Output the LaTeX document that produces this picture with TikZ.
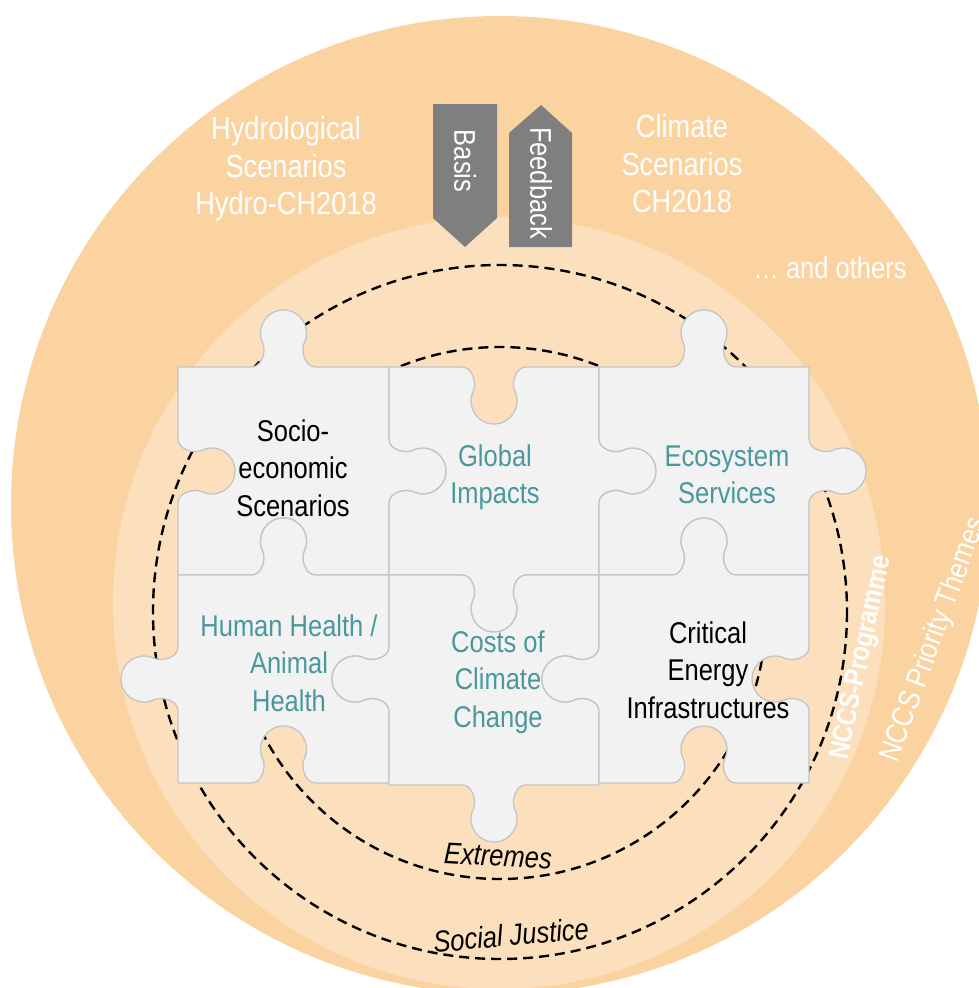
\documentclass[tikz,border=0pt]{standalone}
\usepackage{fontspec}
\setmainfont{Liberation Sans}[FakeStretch=0.85]
\definecolor{outerC}{RGB}{251,211,160}
\definecolor{innerC}{RGB}{252,224,190}
\definecolor{pieceC}{RGB}{242,242,242}
\definecolor{edgeC}{RGB}{196,196,196}
\definecolor{tealC}{RGB}{74,152,158}
\definecolor{arrowC}{RGB}{127,127,127}
% puzzle edge: X Y a b c d ; x = X + a u + b v , y = Y + c u + d v
\newcommand\E[6]{%
 -- ({#1+(#3)*(-32)},{#2+(#5)*(-32)})
 .. controls ({#1+(#3)*(-21)},{#2+(#5)*(-21)}) and ({#1+(#3)*(-17.2)+(#4)*(16.8)},{#2+(#5)*(-17.2)+(#6)*(16.8)}) .. ({#1+(#3)*(-20.7)+(#4)*(24)},{#2+(#5)*(-20.7)+(#6)*(24)})
 .. controls ({#1+(#3)*(-28.1)+(#4)*(39.3)},{#2+(#5)*(-28.1)+(#6)*(39.3)}) and ({#1+(#3)*(-17)+(#4)*(57)},{#2+(#5)*(-17)+(#6)*(57)}) .. ({#1+(#4)*(57)},{#2+(#6)*(57)})
 .. controls ({#1+(#3)*(17)+(#4)*(57)},{#2+(#5)*(17)+(#6)*(57)}) and ({#1+(#3)*(28.1)+(#4)*(39.3)},{#2+(#5)*(28.1)+(#6)*(39.3)}) .. ({#1+(#3)*(20.7)+(#4)*(24)},{#2+(#5)*(20.7)+(#6)*(24)})
 .. controls ({#1+(#3)*(17.2)+(#4)*(16.8)},{#2+(#5)*(17.2)+(#6)*(16.8)}) and ({#1+(#3)*(21)},{#2+(#5)*(21)}) .. ({#1+(#3)*(32)},{#2+(#5)*(32)})
}
\begin{document}
\begin{tikzpicture}[x=1pt,y=-1pt,
  piece/.style={fill=pieceC,draw=edgeC,line width=1.3pt,line join=round},
  ring/.style={draw=black,line width=2.4pt,dash pattern=on 10pt off 6pt},
  lbl/.style={inner sep=0pt,align=center,font=\fontsize{30}{37.5}\selectfont},
  blk/.style={lbl,text=black},
  teal/.style={lbl,text=tealC},
  wht/.style={inner sep=0pt,align=center,text=white,font=\fontsize{32}{37.5}\selectfont},
  arrowbox/.style={fill=arrowC}]
\useasboundingbox (0,0) rectangle (979,988);
\clip (0,0) rectangle (979,988);
% circles
\fill[outerC] (500,505) circle[radius=489];
\fill[innerC] (499,603) circle[radius=386];
\draw[ring] (500,612) circle[radius=347];
\draw[ring] (500,613) circle[radius=266];
% puzzle pieces
\draw[piece] (178,367) \E{283.5}{367}{1}{0}{0}{-1} -- (389,367) \E{389}{471}{0}{1}{1}{0} -- (389,575) \E{283.5}{575}{-1}{0}{0}{-1} -- (178,575) \E{178}{471}{0}{1}{-1}{0} -- cycle;
\draw[piece] (389,367) \E{494}{367}{1}{0}{0}{1} -- (599,367) \E{599}{471}{0}{1}{1}{0} -- (599,575) \E{494}{575}{-1}{0}{0}{1} -- (389,575) \E{389}{471}{0}{1}{-1}{0} -- cycle;
\draw[piece] (599,367) \E{704}{367}{1}{0}{0}{-1} -- (809,367) \E{809}{471}{0}{1}{1}{0} -- (809,575) \E{704}{575}{-1}{0}{0}{-1} -- (599,575) \E{599}{471}{0}{1}{-1}{0} -- cycle;
\draw[piece] (178,575) \E{283.5}{575}{1}{0}{0}{-1} -- (389,575) \E{389}{679}{0}{-1}{1}{0} -- (389,783) \E{283.5}{783}{-1}{0}{0}{-1} -- (178,783) \E{178}{679}{0}{-1}{-1}{0} -- cycle;
\draw[piece] (389,575) \E{494}{575}{1}{0}{0}{1} -- (599,575) \E{599}{679}{0}{-1}{1}{0} -- (599,785) \E{494}{785}{-1}{0}{0}{1} -- (389,785) \E{389}{679}{0}{-1}{-1}{0} -- cycle;
\draw[piece] (599,575) \E{704}{575}{1}{0}{0}{-1} -- (809,575) \E{809}{679}{0}{-1}{1}{0} -- (809,783) \E{704}{783}{-1}{0}{0}{-1} -- (599,783) \E{599}{679}{0}{-1}{-1}{0} -- cycle;
% piece labels
\node[blk]  (socio) at (293,468) {Socio-\\economic\\Scenarios};
\node[teal] (glob)  at (495,477) {Global\\Impacts};
\node[teal] (eco)   at (727,475) {Ecosystem\\Services};
\node[teal] (health) at (289,663) {Human Health /\\Animal\\Health};
\node[teal] (costs) at (498,682) {Costs of\\Climate\\Change};
\node[blk]  (crit)  at (708,670) {Critical\\Energy\\Infrastructures};
% ring labels
\node[lbl,font=\fontsize{30}{36}\selectfont\itshape,rotate=-3] (extr) at (498,856) {Extremes};
\node[lbl,font=\fontsize{30}{36}\selectfont\itshape,rotate=5] (soc) at (511,935) {Social Justice};
\node[inner sep=0pt,text=white,font=\fontsize{28}{30}\selectfont\bfseries,rotate=78] (prog) at (862,658) {NCCS-Programme};
\node[inner sep=0pt,text=white,font=\fontsize{30}{34}\selectfont,rotate=70] (prio) at (934,640) {NCCS Priority Themes};
% top labels
\node[wht] (hydro) at (286,169) {Hydrological\\Scenarios\\Hydro-CH2018};
\node[wht] (clim)  at (682,164) {Climate\\Scenarios\\CH2018};
\node[lbl,text=white] (others) at (830,268) {\dots{} and others};
% arrows
\fill[arrowbox] (433,104) -- (497,104) -- (497,218) -- (465,247) -- (433,218) -- cycle;
\fill[arrowbox] (509,247) -- (509,133) -- (541,105) -- (572,133) -- (572,247) -- cycle;
\node[lbl,text=white,rotate=-90] (basis) at (465,161) {Basis};
\node[lbl,text=white,rotate=-90] (feed) at (541,183) {Feedback};
\end{tikzpicture}
\end{document}
